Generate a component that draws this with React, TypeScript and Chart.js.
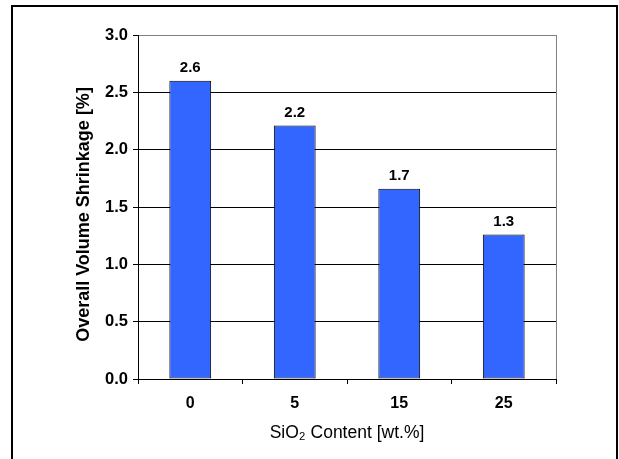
import React, { useEffect, useRef } from "react";
import { Chart, registerables } from "chart.js";

Chart.register(...registerables);

const categories: string[] = ["0", "5", "15", "25"];
const shrinkage: number[] = [2.6, 2.21, 1.66, 1.26];
const yMin = 0;
const yMax = 3;
const yStep = 0.5;
const xTitle = "SiO\u2082 Content [wt.%]";
const yTitle = "Overall Volume Shrinkage [%]";

const FONT = "'Liberation Sans', Arial, Helvetica, sans-serif";

const framePlugin = {
  id: "frame",
  beforeDraw(chart: any) {
    const { ctx, chartArea } = chart;
    ctx.save();
    ctx.fillStyle = "#ffffff";
    ctx.fillRect(0, 0, chart.width, chart.height);
    ctx.strokeStyle = "#000000";
    ctx.lineWidth = 2;
    ctx.strokeRect(12, 6, 605, 470);
    ctx.strokeStyle = "#808080";
    ctx.lineWidth = 1;
    ctx.beginPath();
    const rx = Math.round(chartArea.right) + 0.5;
    ctx.moveTo(rx, chartArea.top);
    ctx.lineTo(rx, chartArea.bottom);
    ctx.stroke();
    ctx.restore();
  },
};

const labelPlugin = {
  id: "barLabels",
  afterDatasetsDraw(chart: any) {
    const { ctx } = chart;
    const meta = chart.getDatasetMeta(0);
    const data = chart.data.datasets[0].data as number[];
    ctx.save();
    ctx.font = `bold 15px ${FONT}`;
    ctx.fillStyle = "#000000";
    ctx.textAlign = "center";
    ctx.textBaseline = "alphabetic";
    meta.data.forEach((bar: any, i: number) => {
      ctx.fillText(data[i].toFixed(1), bar.x, bar.y - 9);
    });
    ctx.restore();
  },
};

export default function App() {
  const ref = useRef<HTMLCanvasElement | null>(null);
  useEffect(() => {
    if (!ref.current) return;
    const chart = new Chart(ref.current, {
      type: "bar",
      data: {
        labels: categories,
        datasets: [
          {
            data: shrinkage,
            backgroundColor: "#3366FF",
            borderColor: "#000000",
            borderWidth: 1,
            borderSkipped: false,
            barPercentage: 0.4,
            categoryPercentage: 1,
          },
        ],
      },
      options: {
        animation: false,
        responsive: false,
        devicePixelRatio: 1,
        layout: { padding: { top: 35, right: 63, bottom: 0, left: 0 } },
        plugins: {
          legend: { display: false },
          tooltip: { enabled: false },
        },
        scales: {
          x: {
            grid: {
              display: true,
              drawOnChartArea: false,
              drawTicks: true,
              tickLength: 5,
              color: "#000000",
              offset: true,
            },
            border: { color: "#000000", width: 1 },
            ticks: {
              font: { family: FONT, size: 16, weight: "bold" },
              color: "#000000",
              padding: 10,
            },
            title: {
              display: true,
              text: xTitle,
              font: { family: FONT, size: 17.5, weight: "normal" },
              color: "#000000",
              padding: { top: 0, bottom: 15.5 },
            },
            afterFit: (s: any) => {
              s.height = 80;
            },
          },
          y: {
            min: yMin,
            max: yMax,
            grid: {
              color: (c: any) => (c.tick && c.tick.value === yMax ? "#808080" : "#000000"),
              tickColor: "#000000",
              tickLength: 5,
              lineWidth: 1,
            },
            border: { color: "#000000", width: 1 },
            ticks: {
              stepSize: yStep,
              callback: (v: any) => Number(v).toFixed(1),
              font: { family: FONT, size: 16.5, weight: "bold" },
              color: "#000000",
              padding: 5,
            },
            title: {
              display: true,
              text: yTitle + "   ",
              font: { family: FONT, size: 18, weight: "bold" },
              color: "#000000",
              padding: { top: 73, bottom: 0 },
            },
            afterFit: (s: any) => {
              s.width = 138;
            },
          },
        },
      },
      plugins: [framePlugin, labelPlugin],
    } as any);
    return () => chart.destroy();
  }, []);
  return (
    <div style={{ position: "fixed", left: 0, top: 0, width: 619, height: 459 }}>
      <canvas ref={ref} width={619} height={459} style={{ display: "block" }} />
    </div>
  );
}
